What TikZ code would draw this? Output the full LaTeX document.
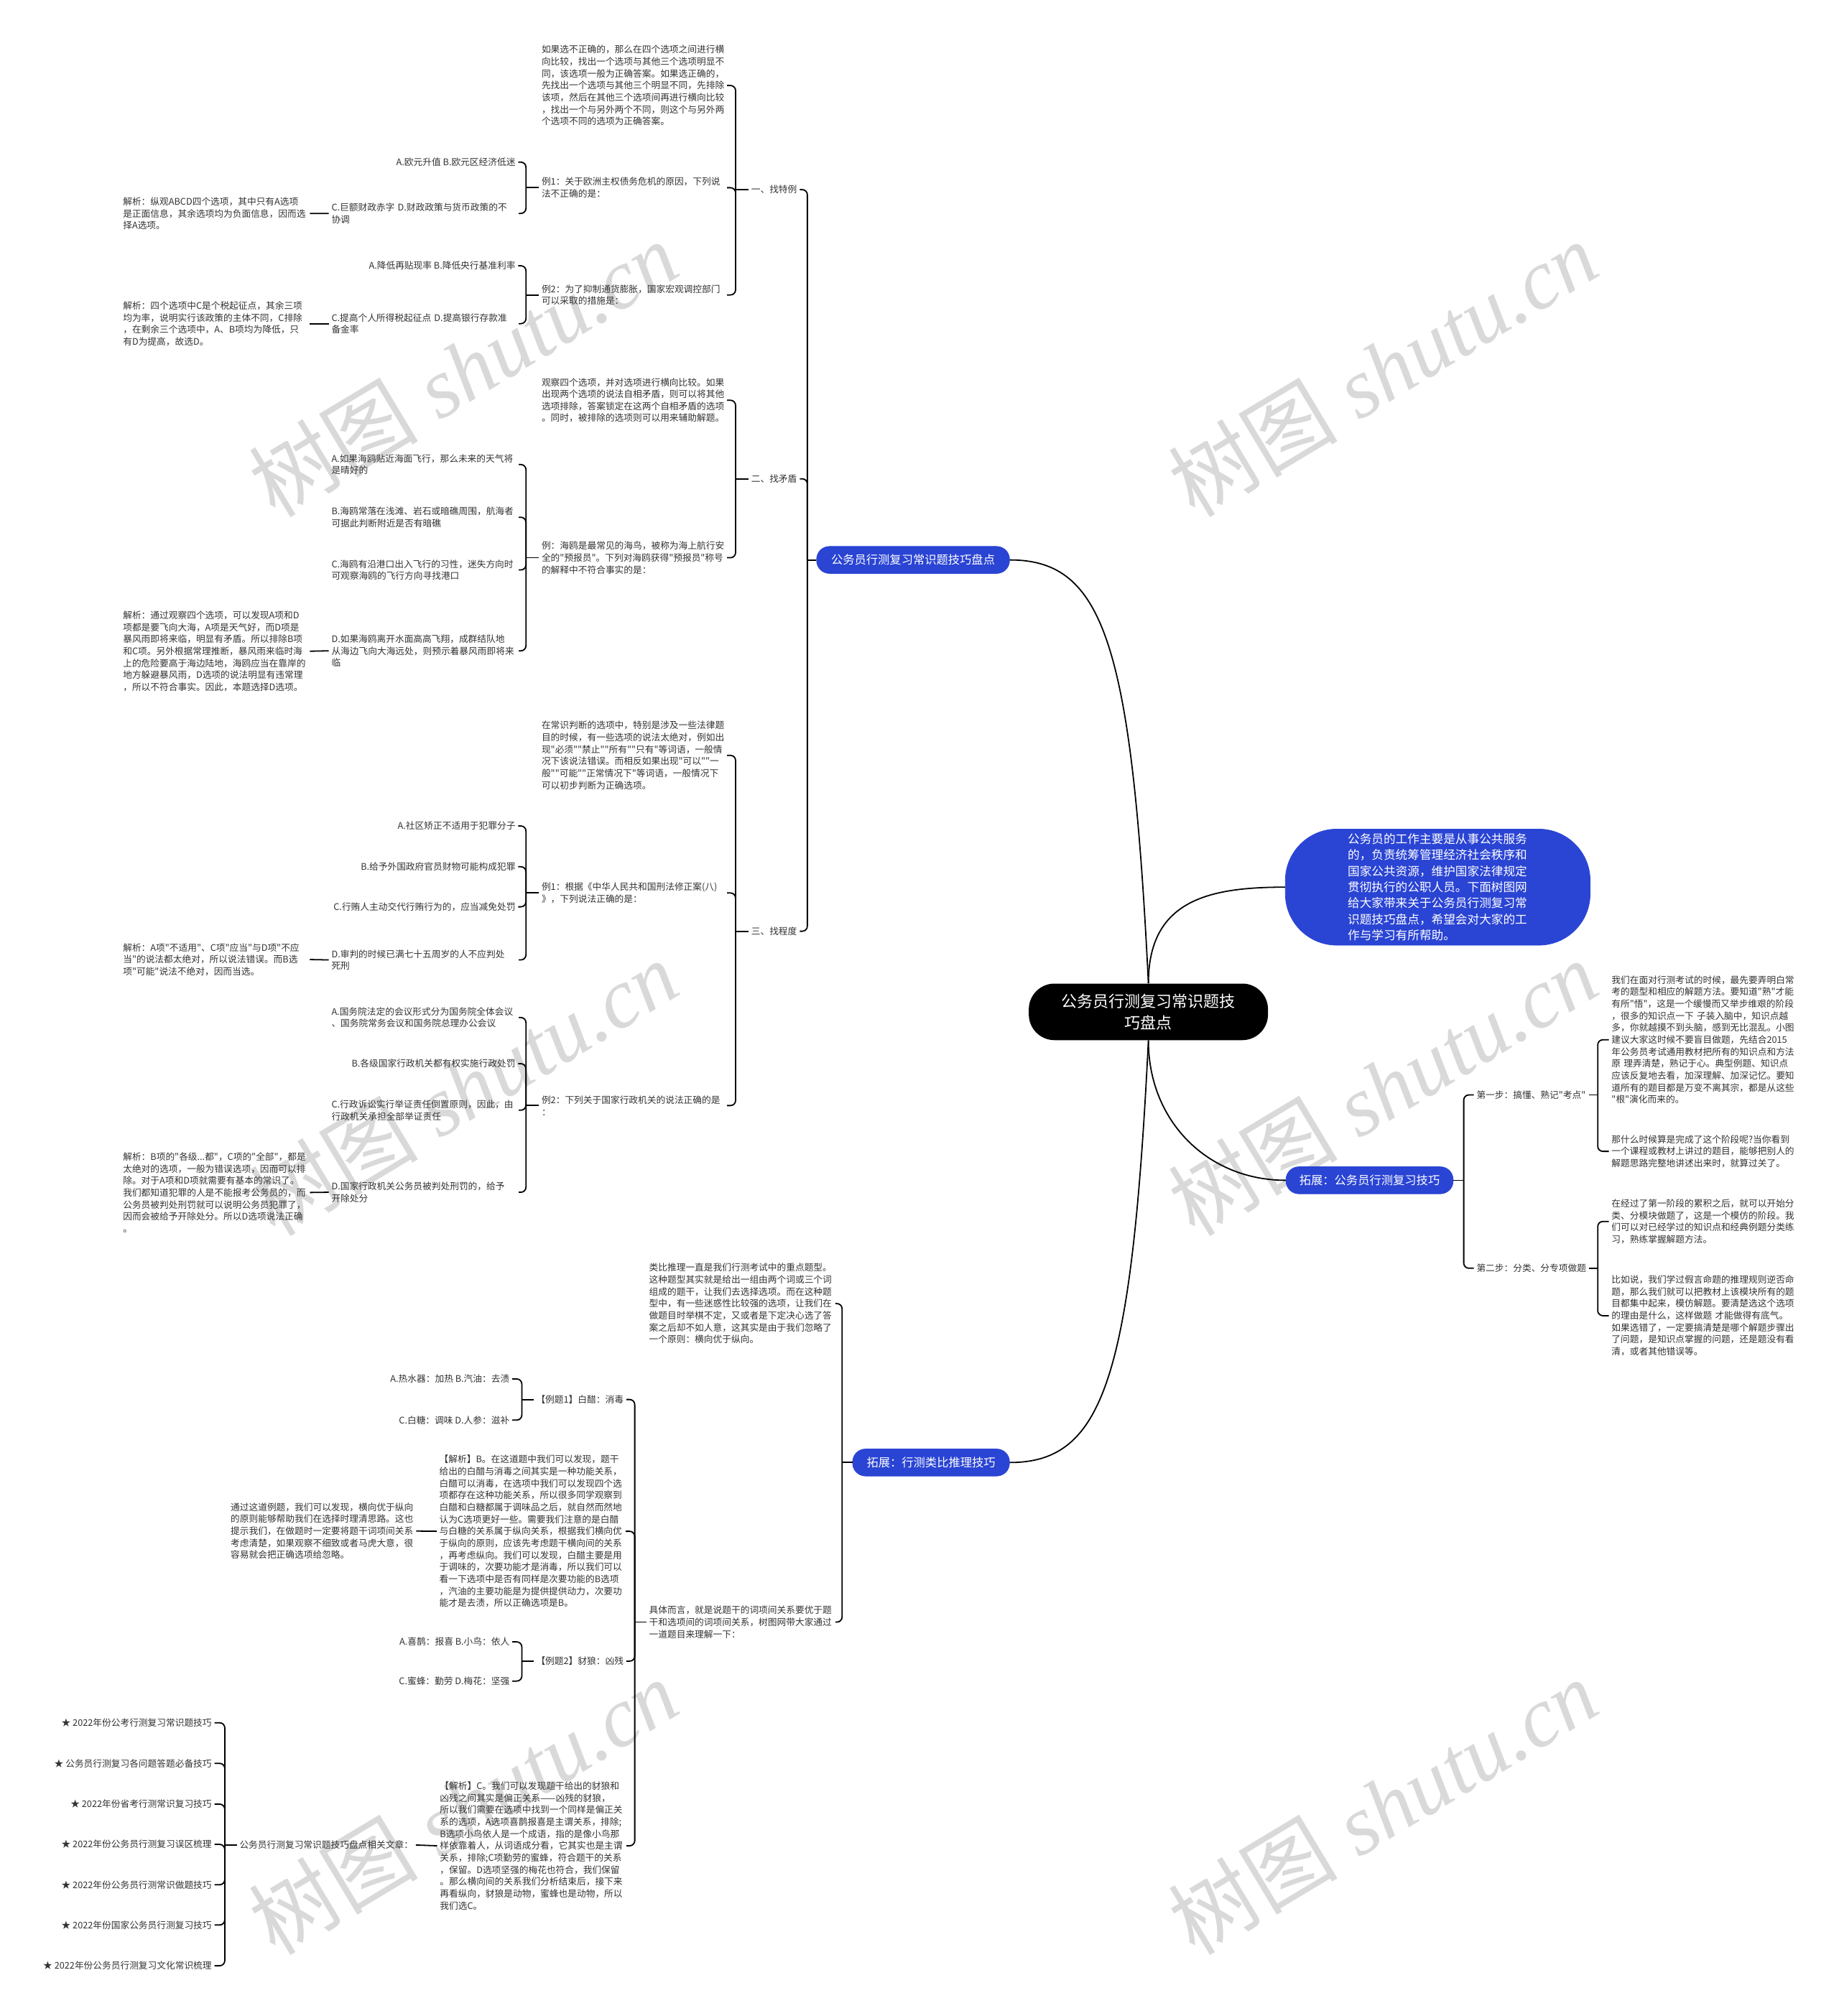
\documentclass[tikz,border=0pt]{standalone}
\usepackage{fontspec}
\setmainfont{Noto Sans CJK SC}[Ligatures=TeXOff]
\newfontfamily\wmlat{Liberation Serif}
\usetikzlibrary{calc}
\definecolor{nodeblue}{HTML}{2A44D4}
\definecolor{txt}{HTML}{333333}
\definecolor{wmc}{HTML}{D9D9D9}
\begin{document}
\begin{tikzpicture}[x=1pt,y=-1pt,
  conn/.style={draw=black, line width=1pt},
  brk/.style={conn, rounded corners=4pt},
  txtbase/.style={inner xsep=2pt, inner ysep=1pt, text=txt, font=\fontsize{7.1}{9.3}\selectfont},
  para/.style={txtbase, anchor=west, text width=#1, align=left},
  para/.default=142pt,
  rt/.style={txtbase, anchor=east},
  lft/.style={txtbase, anchor=west},
  topic/.style={fill=nodeblue, draw=nodeblue, text=white, rounded corners=10pt, minimum height=21pt, inner xsep=0pt, font=\fontsize{9.1}{11}\selectfont},
  wmk/.style={text=wmc, rotate=31, font=\fontsize{66}{70}\selectfont}
]
\useasboundingbox (0,0) rectangle (1430,1568);
\fill[white] (0,0) rectangle (1430,1568);

% watermarks
\foreach \wx/\wy in {360/287,1075/287,360/846,1075/846,360/1405,1075/1405}
  \node[wmk] at (\wx,\wy) {树图\hspace{0.25em}{\wmlat\itshape shutu.cn}};

% central nodes
\node[fill=black, rounded corners=20pt, minimum width=186pt, minimum height=44pt, text=white, align=center, font=\fontsize{12.3}{17}\selectfont] (root) at (893,787) {公务员行测复习常识题技\\巧盘点};
\node[fill=nodeblue, draw=nodeblue, rounded corners=40pt, minimum width=237pt, minimum height=90pt, text=white, text width=140pt, align=left, font=\fontsize{9.3}{12.5}\selectfont] (intro) at (1118,690) {公务员的工作主要是从事公共服务\\的，负责统筹管理经济社会秩序和\\国家公共资源，维护国家法律规定\\贯彻执行的公职人员。下面树图网\\给大家带来关于公务员行测复习常\\识题技巧盘点，希望会对大家的工\\作与学习有所帮助。};
\node[topic, minimum width=150pt] (n1) at (710,435.5) {公务员行测复习常识题技巧盘点};
\node[topic, minimum width=130pt] (n2) at (1065,918) {拓展：公务员行测复习技巧};
\node[topic, minimum width=122pt] (n3) at (724,1137.5) {拓展：行测类比推理技巧};

\draw[conn] (n1.east) .. controls (858,435.5) and (880,500) .. (root.north);
\draw[conn] (root.north) .. controls (893,700) and (940,690) .. (intro.west);
\draw[conn] (root.south) .. controls (893,873) and (940,918) .. (n2.west);
\draw[conn] (root.south) .. controls (880,1072) and (858,1137.5) .. (n3.east);

% ===== Section labels
\node[lft] (t1) at (582,147.5) {一、找特例};
\node[lft] (t2) at (582,372.4) {二、找矛盾};
\node[lft] (t3) at (582,724.3) {三、找程度};
\draw[conn] (n1.west) -- ++(-7pt,0);
\foreach \c in {t1,t2,t3} \draw[brk] ([xshift=-7pt]n1.west) |- (\c.east);

% ===== Section 1
\node[para] (p1) at (419,66.5) {如果选不正确的，那么在四个选项之间进行横\\向比较，找出一个选项与其他三个选项明显不\\同，该选项一般为正确答案。如果选正确的，\\先找出一个选项与其他三个明显不同，先排除\\该项，然后在其他三个选项间再进行横向比较\\，找出一个与另外两个不同，则这个与另外两\\个选项不同的选项为正确答案。};
\node[para] (e1) at (419,146) {例1：关于欧洲主权债务危机的原因，下列说\\法不正确的是：};
\node[para] (e2) at (419,229.4) {例2：为了抑制通货膨胀，国家宏观调控部门\\可以采取的措施是：};
\draw[conn] (t1.west) -- ++(-10pt,0);
\foreach \c in {p1,e1,e2} \draw[brk] ([xshift=-10pt]t1.west) |- (\c.east);

\node[rt] (e1a) at (403,126.1) {A.欧元升值~B.欧元区经济低迷};
\node[para=143.4pt] (e1c) at (255.6,166) {C.巨额财政赤字~D.财政政策与货币政策的不\\协调};
\draw[conn] (e1.west) -- ++(-10pt,0);
\foreach \c in {e1a,e1c} \draw[brk] ([xshift=-10pt]e1.west) |- (\c.east);
\node[para=143pt] (e1cj) at (93.5,166.1) {解析：纵观ABCD四个选项，其中只有A选项\\是正面信息，其余选项均为负面信息，因而选\\择A选项。};
\draw[conn] (e1c.west) -- (e1cj.east);

\node[rt] (e2a) at (403,206.7) {A.降低再贴现率~B.降低央行基准利率};
\node[para=143.4pt] (e2c) at (255.6,251.75) {C.提高个人所得税起征点~D.提高银行存款准\\备金率};
\draw[conn] (e2.west) -- ++(-10pt,0);
\foreach \c in {e2a,e2c} \draw[brk] ([xshift=-10pt]e2.west) |- (\c.east);
\node[para=143pt] (e2cj) at (93.5,251.75) {解析：四个选项中C是个税起征点，其余三项\\均为率，说明实行该政策的主体不同，C排除\\，在剩余三个选项中，A、B项均为降低，只\\有D为提高，故选D。};
\draw[conn] (e2c.west) -- (e2cj.east);

% ===== Section 2
\node[para] (p2) at (419,311.3) {观察四个选项，并对选项进行横向比较。如果\\出现两个选项的说法自相矛盾，则可以将其他\\选项排除，答案锁定在这两个自相矛盾的选项\\。同时，被排除的选项则可以用来辅助解题。};
\node[para] (e3) at (419,433.8) {例：海鸥是最常见的海鸟，被称为海上航行安\\全的"预报员"。下列对海鸥获得"预报员"称号\\的解释中不符合事实的是：};
\draw[conn] (t2.west) -- ++(-10pt,0);
\foreach \c in {p2,e3} \draw[brk] ([xshift=-10pt]t2.west) |- (\c.east);

\node[para=143.4pt] (e3a) at (255.6,361.3) {A.如果海鸥贴近海面飞行，那么未来的天气将\\是晴好的};
\node[para=143.4pt] (e3b) at (255.6,402.3) {B.海鸥常落在浅滩、岩石或暗礁周围，航海者\\可据此判断附近是否有暗礁};
\node[para=143.4pt] (e3c) at (255.6,443.3) {C.海鸥有沿港口出入飞行的习性，迷失方向时\\可观察海鸥的飞行方向寻找港口};
\node[para=143.4pt] (e3d) at (255.6,506.2) {D.如果海鸥离开水面高高飞翔，成群结队地\\从海边飞向大海远处，则预示着暴风雨即将来\\临};
\draw[conn] (e3.west) -- ++(-10pt,0);
\foreach \c in {e3a,e3b,e3c,e3d} \draw[brk] ([xshift=-10pt]e3.west) |- (\c.east);
\node[para=143pt] (e3dj) at (93.5,506.5) {解析：通过观察四个选项，可以发现A项和D\\项都是要飞向大海，A项是天气好，而D项是\\暴风雨即将来临，明显有矛盾。所以排除B项\\和C项。另外根据常理推断，暴风雨来临时海\\上的危险要高于海边陆地，海鸥应当在靠岸的\\地方躲避暴风雨，D选项的说法明显有违常理\\，所以不符合事实。因此，本题选择D选项。};
\draw[conn] (e3d.west) -- (e3dj.east);

% ===== Section 3
\node[para] (p3) at (419,587.5) {在常识判断的选项中，特别是涉及一些法律题\\目的时候，有一些选项的说法太绝对，例如出\\现"必须""禁止""所有""只有"等词语，一般情\\况下该说法错误。而相反如果出现"可以""一\\般""可能""正常情况下"等词语，一般情况下\\可以初步判断为正确选项。};
\node[para] (e4) at (419,694.5) {例1：根据《中华人民共和国刑法修正案(八)\\》，下列说法正确的是：};
\node[para] (e5) at (419,859.9) {例2：下列关于国家行政机关的说法正确的是\\：};
\draw[conn] (t3.west) -- ++(-10pt,0);
\foreach \c in {p3,e4,e5} \draw[brk] ([xshift=-10pt]t3.west) |- (\c.east);

\node[rt] (e4a) at (403,642.4) {A.社区矫正不适用于犯罪分子};
\node[rt] (e4b) at (403,674.1) {B.给予外国政府官员财物可能构成犯罪};
\node[rt] (e4c) at (403,705.3) {C.行贿人主动交代行贿行为的，应当减免处罚};
\node[para=143.4pt] (e4d) at (255.6,746.6) {D.审判的时候已满七十五周岁的人不应判处\\死刑};
\draw[conn] (e4.west) -- ++(-10pt,0);
\foreach \c in {e4a,e4b,e4c,e4d} \draw[brk] ([xshift=-10pt]e4.west) |- (\c.east);
\node[para=143pt] (e4dj) at (93.5,746.3) {解析：A项"不适用"、C项"应当"与D项"不应\\当"的说法都太绝对，所以说法错误。而B选\\项"可能"说法不绝对，因而当选。};
\draw[conn] (e4d.west) -- (e4dj.east);

\node[para=143.4pt] (e5a) at (255.6,791.4) {A.国务院法定的会议形式分为国务院全体会议\\、国务院常务会议和国务院总理办公会议};
\node[rt] (e5b) at (403,827.3) {B.各级国家行政机关都有权实施行政处罚};
\node[para=143.4pt] (e5c) at (255.6,863.5) {C.行政诉讼实行举证责任倒置原则，因此，由\\行政机关承担全部举证责任};
\node[para=143.4pt] (e5d) at (255.6,927.3) {D.国家行政机关公务员被判处刑罚的，给予\\开除处分};
\draw[conn] (e5.west) -- ++(-10pt,0);
\foreach \c in {e5a,e5b,e5c,e5d} \draw[brk] ([xshift=-10pt]e5.west) |- (\c.east);
\node[para=143pt] (e5dj) at (93.5,927.5) {解析：B项的"各级...都"，C项的"全部"，都是\\太绝对的选项，一般为错误选项，因而可以排\\除。对于A项和D项就需要有基本的常识了。\\我们都知道犯罪的人是不能报考公务员的，而\\公务员被判处刑罚就可以说明公务员犯罪了，\\因而会被给予开除处分。所以D选项说法正确\\。};
\draw[conn] (e5d.west) -- (e5dj.east);

% ===== Right side
\node[para=85pt] (s1) at (1146,851.6) {第一步：搞懂、熟记"考点"};
\node[para=85pt] (s2) at (1146,986.4) {第二步：分类、分专项做题};
\draw[conn] (n2.east) -- ++(8pt,0);
\foreach \c in {s1,s2} \draw[brk] ([xshift=8pt]n2.east) |- (\c.west);

\node[para] (pa) at (1251,808.7) {我们在面对行测考试的时候，最先要弄明白常\\考的题型和相应的解题方法。要知道"熟"才能\\有所"悟"，这是一个缓慢而又举步维艰的阶段\\，很多的知识点一下~子装入脑中，知识点越\\多，你就越摸不到头脑，感到无比混乱。小图\\建议大家这时候不要盲目做题，先结合2015\\年公务员考试通用教材把所有的知识点和方法\\原~理弄清楚，熟记于心。典型例题、知识点\\应该反复地去看，加深理解、加深记忆。要知\\道所有的题目都是万变不离其宗，都是从这些\\"根"演化而来的。};
\node[para] (pb) at (1251,895.5) {那什么时候算是完成了这个阶段呢?当你看到\\一个课程或教材上讲过的题目，能够把别人的\\解题思路完整地讲述出来时，就算过关了。};
\draw[conn] (s1.east) -- ++(7pt,0);
\foreach \c in {pa,pb} \draw[brk] ([xshift=7pt]s1.east) |- (\c.west);

\node[para] (pc) at (1251,950) {在经过了第一阶段的累积之后，就可以开始分\\类、分模块做题了，这是一个模仿的阶段。我\\们可以对已经学过的知识点和经典例题分类练\\习，熟练掌握解题方法。};
\node[para] (pd) at (1251,1023.3) {比如说，我们学过假言命题的推理规则逆否命\\题，那么我们就可以把教材上该模块所有的题\\目都集中起来，模仿解题。要清楚选这个选项\\的理由是什么，这样做题~才能做得有底气。\\如果选错了，一定要搞清楚是哪个解题步骤出\\了问题，是知识点掌握的问题，还是题没有看\\清，或者其他错误等。};
\draw[conn] (s2.east) -- ++(7pt,0);
\foreach \c in {pc,pd} \draw[brk] ([xshift=7pt]s2.east) |- (\c.west);

% ===== Bottom section
\node[para=142.6pt] (pe) at (502.6,1013.9) {类比推理一直是我们行测考试中的重点题型。\\这种题型其实就是给出一组由两个词或三个词\\组成的题干，让我们去选择选项。而在这种题\\型中，有一些迷惑性比较强的选项，让我们在\\做题目时举棋不定，又或者是下定决心选了答\\案之后却不如人意，这其实是由于我们忽略了\\一个原则：横向优于纵向。};
\node[para=142.6pt] (pf) at (502.6,1261.6) {具体而言，就是说题干的词项间关系要优于题\\干和选项间的词项间关系，树图网带大家通过\\一道题目来理解一下：};
\draw[conn] (n3.west) -- ++(-8pt,0);
\foreach \c in {pe,pf} \draw[brk] ([xshift=-8pt]n3.west) |- (\c.east);

\node[lft] (q1) at (414.8,1088.5) {【例题1】白醋：消毒};
\node[para=142.7pt] (qb) at (339.5,1191) {【解析】B。在这道题中我们可以发现，题干\\给出的白醋与消毒之间其实是一种功能关系，\\白醋可以消毒，在选项中我们可以发现四个选\\项都存在这种功能关系，所以很多同学观察到\\白醋和白糖都属于调味品之后，就自然而然地\\认为C选项更好一些。需要我们注意的是白醋\\与白糖的关系属于纵向关系，根据我们横向优\\于纵向的原则，应该先考虑题干横向间的关系\\，再考虑纵向。我们可以发现，白醋主要是用\\于调味的，次要功能才是消毒，所以我们可以\\看一下选项中是否有同样是次要功能的B选项\\，汽油的主要功能是为提供提供动力，次要功\\能才是去渍，所以正确选项是B。};
\node[lft] (q2) at (414.8,1292) {【例题2】豺狼：凶残};
\node[para=142.8pt] (qc) at (339.9,1435.6) {【解析】C。我们可以发现题干给出的豺狼和\\凶残之间其实是偏正关系——凶残的豺狼，\\所以我们需要在选项中找到一个同样是偏正关\\系的选项，A选项喜鹊报喜是主谓关系，排除;\\B选项小鸟依人是一个成语，指的是像小鸟那\\样依靠着人，从词语成分看，它其实也是主谓\\关系，排除;C项勤劳的蜜蜂，符合题干的关系\\，保留。D选项坚强的梅花也符合，我们保留\\。那么横向间的关系我们分析结束后，接下来\\再看纵向，豺狼是动物，蜜蜂也是动物，所以\\我们选C。};
\draw[conn] (pf.west) -- ++(-9pt,0);
\foreach \c in {q1,qb,q2,qc} \draw[brk] ([xshift=-9pt]pf.west) |- (\c.east);

\node[rt] (q1a) at (398.4,1072.5) {A.热水器：加热~B.汽油：去渍};
\node[rt] (q1c) at (398.4,1104.5) {C.白糖：调味~D.人参：滋补};
\draw[conn] (q1.west) -- ++(-9pt,0);
\foreach \c in {q1a,q1c} \draw[brk] ([xshift=-9pt]q1.west) |- (\c.east);

\node[rt] (q2a) at (398.4,1277) {A.喜鹊：报喜~B.小鸟：依人};
\node[rt] (q2c) at (398.4,1307.5) {C.蜜蜂：勤劳~D.梅花：坚强};
\draw[conn] (q2.west) -- ++(-9pt,0);
\foreach \c in {q2a,q2c} \draw[brk] ([xshift=-9pt]q2.west) |- (\c.east);

\node[para=142pt] (qbj) at (177.2,1190.8) {通过这道例题，我们可以发现，横向优于纵向\\的原则能够帮助我们在选择时理清思路。这也\\提示我们，在做题时一定要将题干词项间关系\\考虑清楚，如果观察不细致或者马虎大意，很\\容易就会把正确选项给忽略。};
\draw[conn] (qb.west) -- (qbj.east);

\node[lft] (qcr) at (184.1,1435) {公务员行测复习常识题技巧盘点相关文章：};
\draw[conn] (qc.west) -- (qcr.east);

\node[rt] (st1) at (166.8,1339.9) {★~2022年份公考行测复习常识题技巧};
\node[rt] (st2) at (166.8,1371.5) {★~公务员行测复习各问题答题必备技巧};
\node[rt] (st3) at (166.8,1403.2) {★~2022年份省考行测常识复习技巧};
\node[rt] (st4) at (166.8,1434.5) {★~2022年份公务员行测复习误区梳理};
\node[rt] (st5) at (166.8,1465.9) {★~2022年份公务员行测常识做题技巧};
\node[rt] (st6) at (166.8,1497.2) {★~2022年份国家公务员行测复习技巧};
\node[rt] (st7) at (166.8,1528.9) {★~2022年份公务员行测复习文化常识梳理};
\draw[conn] (qcr.west) -- ++(-9.3pt,0);
\foreach \c in {st1,st2,st3,st4,st5,st6,st7} \draw[brk] ([xshift=-9.3pt]qcr.west) |- (\c.east);
\end{tikzpicture}
\end{document}
